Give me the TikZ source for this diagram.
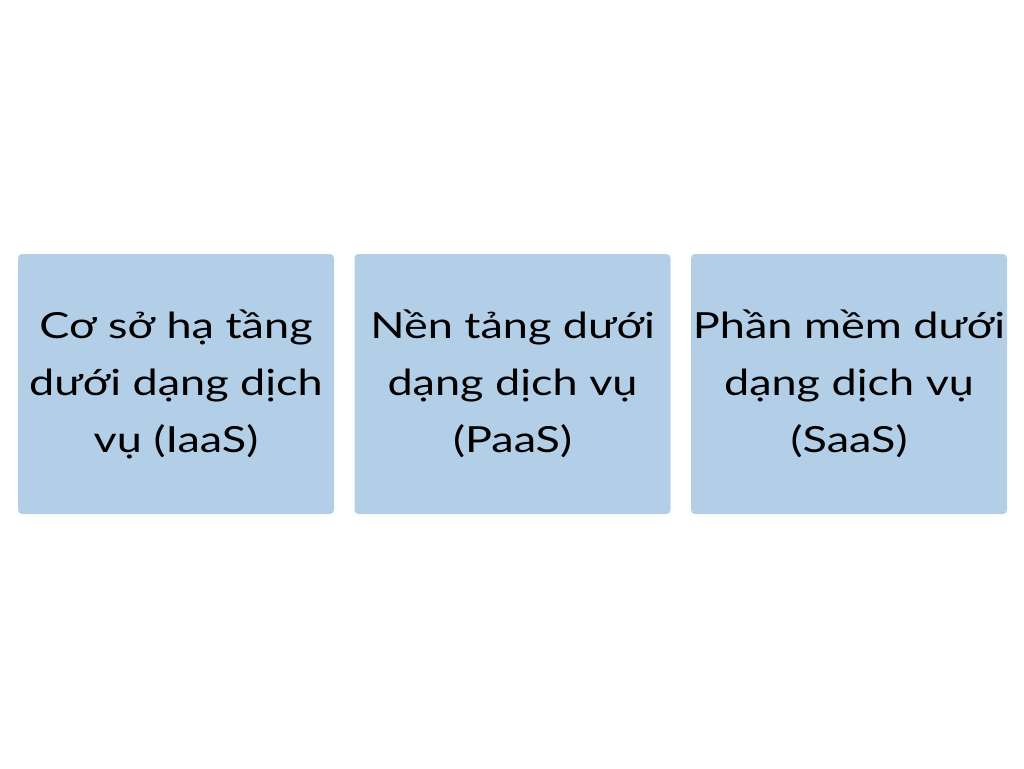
\documentclass[tikz,border=0pt]{standalone}
\usepackage{fontspec}
\setmainfont{Lato}[FakeStretch=1.25]
\usetikzlibrary{positioning}
\definecolor{tileblue}{HTML}{B3CFE7}
\tikzset{
  tile/.style={fill=tileblue, rounded corners=3pt, minimum width=237pt,
    minimum height=195pt, align=center, inner sep=0pt,
    font=\fontsize{27pt}{42.75pt}\selectfont}
}
\begin{document}
\begin{tikzpicture}[x=0.75pt,y=-0.75pt]
    \useasboundingbox (0,0) rectangle (1024,768);
    \node[tile] (iaas) at (176,384) {Cơ sở hạ tầng\\dưới dạng dịch\\vụ (IaaS)};
    \node[tile, right=15pt of iaas] (paas) {Nền tảng dưới\\dạng dịch vụ\\(PaaS)};
    \node[tile, right=15pt of paas] (saas) {Phần mềm dưới\\dạng dịch vụ\\(SaaS)};
\end{tikzpicture}
\end{document}
